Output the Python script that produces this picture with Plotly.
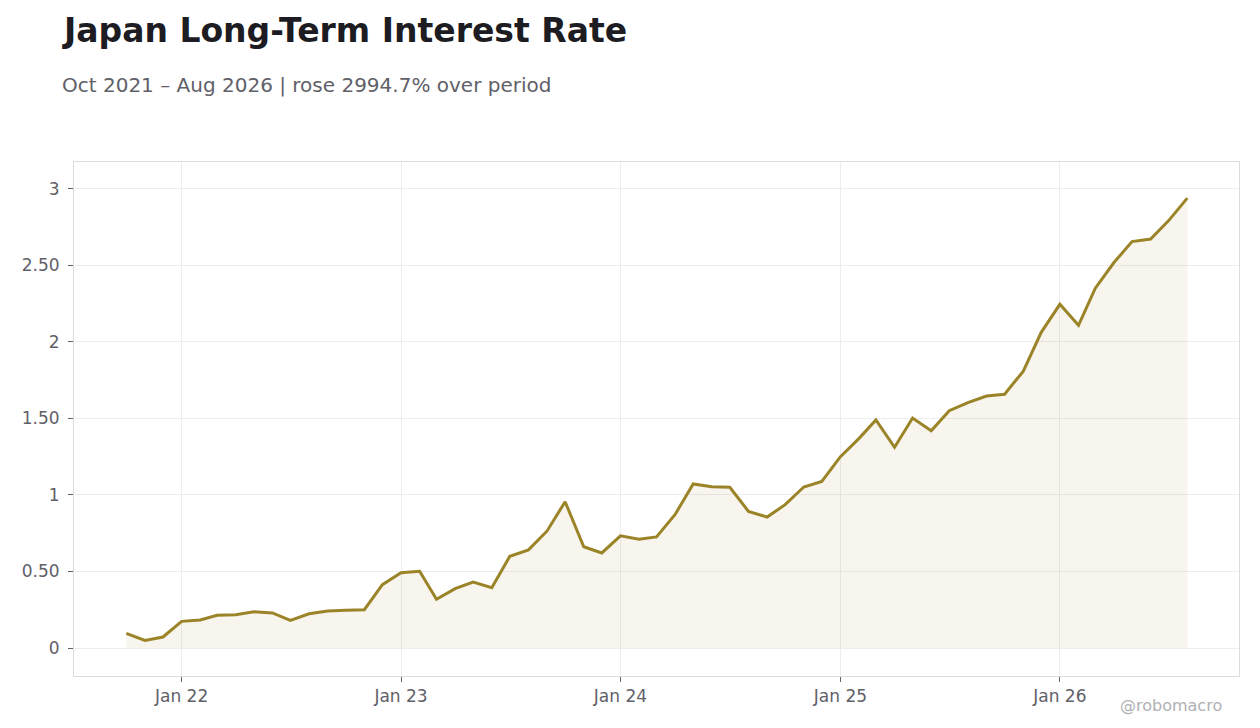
import pandas as pd
import plotly.graph_objects as go

# Data (monthly, Oct 2021 - Aug 2026)
months = pd.date_range("2021-10-01", "2026-08-01", freq="MS")
rates = [
    0.095, 0.050, 0.072, 0.174, 0.183, 0.214, 0.218, 0.237, 0.229, 0.181,
    0.224, 0.242, 0.246, 0.250, 0.414, 0.492, 0.501, 0.318, 0.388, 0.431,
    0.394, 0.599, 0.641, 0.765, 0.956, 0.662, 0.621, 0.733, 0.711, 0.726,
    0.873, 1.072, 1.054, 1.050, 0.893, 0.856, 0.937, 1.052, 1.089, 1.250,
    1.370, 1.490, 1.312, 1.503, 1.420, 1.551, 1.603, 1.647, 1.658, 1.808,
    2.063, 2.246, 2.109, 2.351, 2.519, 2.656, 2.673, 2.793, 2.940,
]
y_ticks = [0, 0.5, 1, 1.5, 2, 2.5, 3]
y_labels = ["0", "0.50", "1", "1.50", "2", "2.50", "3"]
x_ticks = ["2022-01-01", "2023-01-01", "2024-01-01", "2025-01-01", "2026-01-01"]
x_labels = ["Jan 22", "Jan 23", "Jan 24", "Jan 25", "Jan 26"]

title = "Japan Long-Term Interest Rate"
subtitle = "Oct 2021 – Aug 2026 | rose 2994.7% over period"

line_color = "#9b8428"
text_color = "#5f6068"

# page body has an 8px margin, so the figure is shrunk to fit
W, H = 1252, 720
ml, mr, mt, mb = 66, 21, 154, 52

fig = go.Figure()
fig.add_trace(go.Scatter(
    x=months, y=rates, mode="lines",
    line=dict(color=line_color, width=3),
    fill="tozeroy", fillcolor="rgba(155,132,40,0.08)",
    hoverinfo="x+y", showlegend=False,
))

axis_style = dict(
    ticks="outside", ticklen=5, tickcolor=text_color,
    showgrid=True, gridcolor="#ededed", zeroline=False,
    showline=True, linecolor="#dcdcdc", mirror=True,
)
fig.update_layout(
    width=W, height=H,
    margin=dict(l=ml, r=mr, t=mt, b=mb),
    paper_bgcolor="white", plot_bgcolor="white",
    font=dict(family="DejaVu Sans", color=text_color, size=17),
    xaxis=dict(range=["2021-07-06", "2026-10-26"],
               tickvals=x_ticks, ticktext=x_labels, **axis_style),
    yaxis=dict(range=[-0.183, 3.176], ticklabelstandoff=5,
               tickvals=y_ticks, ticktext=y_labels, **axis_style),
)

# convert screen pixels into paper coordinates
plot_w = W - ml - mr
plot_h = H - mt - mb
def px(x, y):
    return (x - 8 - ml) / plot_w, (H - mb - (y - 8)) / plot_h

tx, ty = px(60, 30)
sx, sy = px(60, 85)
wx, wy = px(1224, 705)
fig.add_annotation(text="<b>" + title + "</b>", x=tx, y=ty,
                   xref="paper", yref="paper", xanchor="left", yanchor="middle",
                   showarrow=False, font=dict(size=33, color="#1c1c22"))
fig.add_annotation(text=subtitle, x=sx, y=sy,
                   xref="paper", yref="paper", xanchor="left", yanchor="middle",
                   showarrow=False, font=dict(size=20, color=text_color))
fig.add_annotation(text="@robomacro", x=wx, y=wy,
                   xref="paper", yref="paper", xanchor="right", yanchor="middle",
                   showarrow=False, font=dict(size=16, color="#b0b0b4"))

fig.write_html("out.html")
